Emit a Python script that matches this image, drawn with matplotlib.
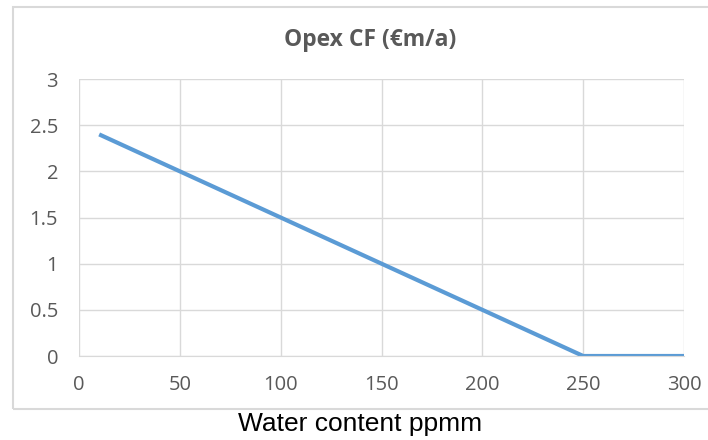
import matplotlib.pyplot as plt
from matplotlib.patches import Rectangle

# data
water_content = [10, 50, 100, 150, 200, 250, 300]
opex_cf = [2.4, 2.0, 1.5, 1.0, 0.5, 0.0, 0.0]
x_ticks = [0, 50, 100, 150, 200, 250, 300]
y_ticks = [0, 0.5, 1, 1.5, 2, 2.5, 3]
y_labels = ["0", "0.5", "1", "1.5", "2", "2.5", "3"]

W, H = 708, 440
fig = plt.figure(figsize=(W / 100, H / 100), dpi=100)

# outer chart border (Excel style)
fig.patches.append(Rectangle((13 / W, 1 - 409 / H), (720 - 13) / W, (409 - 7) / H,
                             transform=fig.transFigure, fill=False,
                             edgecolor="#d9d9d9", lw=1.5))

ax = fig.add_axes([79 / W, 1 - 356 / H, (684 - 79) / W, (356 - 79) / H])
ax.plot(water_content, opex_cf, color="#5b9bd5", lw=3.0, solid_capstyle="butt")

ax.set_xlim(0, 300)
ax.set_ylim(0, 3)
ax.set_xticks(x_ticks)
ax.set_yticks(y_ticks)
ax.set_yticklabels(y_labels)
ax.grid(True, color="#d9d9d9", lw=1)
ax.set_axisbelow(True)
for s in ["top", "right", "left"]:
    ax.spines[s].set_visible(False)
ax.spines["bottom"].set_color("#d9d9d9")
ax.tick_params(length=0, labelsize=14.5, colors="#595959")
ax.tick_params(axis="x", pad=14)
ax.tick_params(axis="y", pad=15)
for lab in ax.get_xticklabels() + ax.get_yticklabels():
    lab.set_fontfamily("Open Sans")

fig.text(370 / W, 1 - 40 / H, "Opex CF (€m/a)", ha="center", va="center",
         fontsize=16.5, fontweight="bold", color="#595959", family="Open Sans")
fig.text(360 / W, 1 - 424 / H, "Water content ppmm", ha="center", va="center",
         fontsize=19, color="black", family="Liberation Sans")

fig.savefig("out.png", dpi=100)
